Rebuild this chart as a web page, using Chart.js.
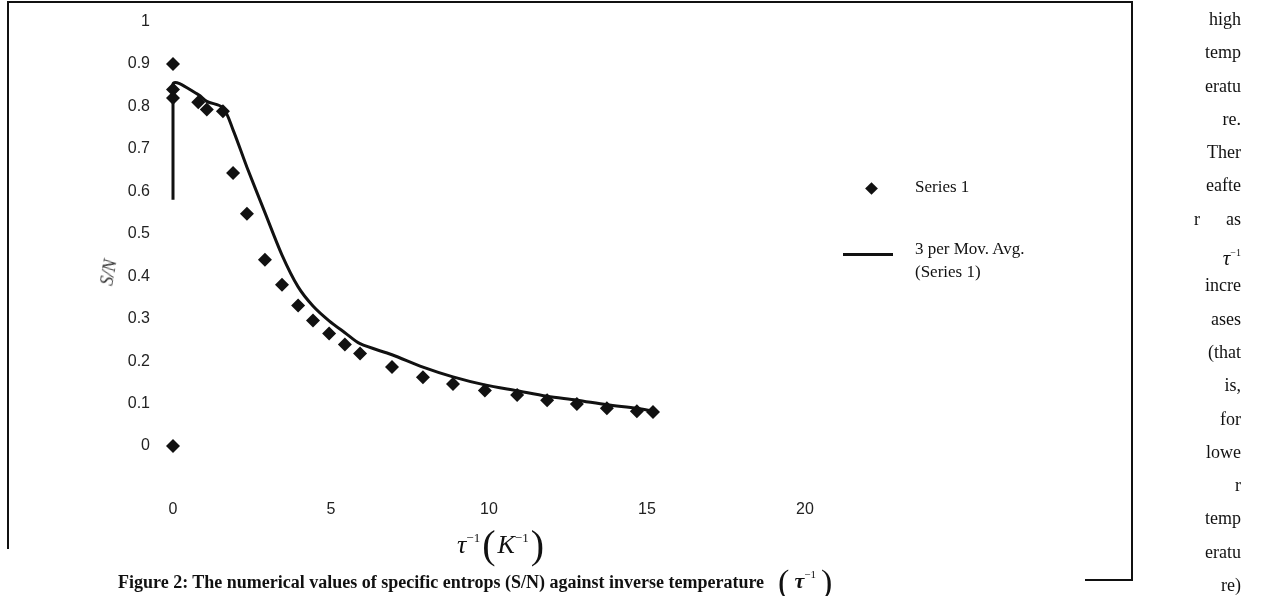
<!DOCTYPE html>
<html>
<head>
<meta charset="utf-8">
<script src="https://cdn.jsdelivr.net/npm/chart.js@4.4.1/dist/chart.umd.min.js"></script>
<style>
  body { margin: 0; background: #fff; }
  #page { position: relative; width: 1266px; height: 596px; overflow: hidden; background: #fff; }
  #c { position: absolute; left: 0; top: -11px; }
  .rule { position: absolute; background: #111; }
  .serif { font-family: "Liberation Serif", "Times New Roman", serif; color: #111; }
  #legend { position: absolute; left: 840px; top: 174px; font-size: 17px; }
  #legend .row { position: absolute; white-space: nowrap; }
  #legend .diamond { position: absolute; width: 9px; height: 9px; background: #111; transform: rotate(45deg); }
  #legend .bar { position: absolute; width: 50px; height: 3px; background: #111; }
  #xtitle { position: absolute; left: 457px; top: 521px; font-size: 26px; white-space: nowrap; }
  #xtitle sup { font-size: 13px; vertical-align: 11px; }
  #xtitle .par { font-size: 40px; font-weight: 300; vertical-align: -5px; margin: 0 2px; }
  #ytitle { position: absolute; left: 96px; top: 262px; font-size: 18px; font-style: italic; color: #333; transform: rotate(-80deg); }
  #caption { position: absolute; left: 118px; top: 563px; font-size: 18px; font-weight: bold; white-space: nowrap; }
  #caption .par { font-size: 34px; font-weight: normal; vertical-align: -5px; margin: 0 5px; }
  #caption .tau { font-size: 22px; }
  #caption sup { font-size: 11px; vertical-align: 10px; font-weight: normal; }
  #side { position: absolute; left: 1194px; top: 3px; width: 47px; font-size: 18px; text-align: right; }
  #side div { height: 33.3px; line-height: 33.3px; white-space: nowrap; }
  #side .tau i { font-size: 21px; }
  #side .tau sup { font-size: 10px; vertical-align: 9px; }
</style>
</head>
<body>
<div id="page">
  <canvas id="c" width="1266" height="596"></canvas>

  <div class="rule" style="left:7px; top:1px; width:2px; height:548px;"></div>
  <div class="rule" style="left:7px; top:1px; width:1126px; height:2px;"></div>
  <div class="rule" style="left:1131px; top:1px; width:2px; height:580px;"></div>
  <div class="rule" style="left:1085px; top:579px; width:48px; height:2px;"></div>

  <div id="legend" class="serif">
    <div class="diamond" style="left:27px; top:10px;"></div>
    <div class="row" style="left:75px; top:3px;">Series 1</div>
    <div class="bar" style="left:3px; top:79px;"></div>
    <div class="row" style="left:75px; top:65px;">3 per Mov. Avg.</div>
    <div class="row" style="left:75px; top:88px;">(Series 1)</div>
  </div>

  <div id="ytitle" class="serif">S/N</div>

  <div id="xtitle" class="serif"><i>τ</i><sup>−1</sup><span class="par">(</span><i>K</i><sup>−1</sup><span class="par">)</span></div>

  <div id="caption" class="serif">Figure 2: The numerical values of specific entrops (S/N) against inverse temperature &nbsp;<span class="par">(</span><i class="tau">τ</i><sup>−1</sup><span class="par">)</span></div>

  <div id="side" class="serif">
    <div>high</div><div>temp</div><div>eratu</div><div>re.</div><div>Ther</div><div>eafte</div>
    <div style="display:flex;justify-content:space-between;"><span>r</span><span>as</span></div>
    <div class="tau"><i>τ</i><sup>−1</sup></div>
    <div>incre</div><div>ases</div><div>(that</div><div>is,</div><div>for</div><div>lowe</div><div>r</div><div>temp</div><div>eratu</div><div>re)</div>
  </div>
</div>

<script>
// Series 1: inverse temperature against S/N
const seriesX = [0, 0, 0, 0, 0.8, 1.07, 1.58, 1.9, 2.34, 2.91, 3.45, 3.96, 4.43, 4.94, 5.44, 5.92, 6.93, 7.91, 8.86, 9.87, 10.89, 11.84, 12.78, 13.73, 14.68, 15.19];
const seriesY = [0, 0.9, 0.84, 0.82, 0.81, 0.793, 0.789, 0.643, 0.547, 0.439, 0.38, 0.331, 0.296, 0.265, 0.239, 0.218, 0.186, 0.162, 0.146, 0.131, 0.12, 0.108, 0.099, 0.089, 0.082, 0.08];

// 3 period moving average trendline
const avgX = [0, 0, 0.8, 1.07, 1.58, 1.9, 2.34, 2.91, 3.45, 3.96, 4.43, 4.94, 5.44, 5.92, 6.93, 7.91, 8.86, 9.87, 10.89, 11.84, 12.78, 13.73, 14.68, 15.19];
const avgY = [0.58, 0.853, 0.828, 0.812, 0.797, 0.745, 0.657, 0.55, 0.45, 0.375, 0.33, 0.295, 0.267, 0.241, 0.215, 0.186, 0.163, 0.144, 0.13, 0.117, 0.108, 0.097, 0.089, 0.082];

const xTickLabels = ['0', '5', '10', '15', '20'];
const yTickLabels = ['0', '0.1', '0.2', '0.3', '0.4', '0.5', '0.6', '0.7', '0.8', '0.9', '1'];

const tickFont = { family: '"Liberation Sans", Arial, sans-serif', size: 16 };

const ctx = document.getElementById('c').getContext('2d');
new Chart(ctx, {
    type: 'scatter',
    data: {
        datasets: [
            {
                label: 'Series 1',
                data: seriesX.map((x, i) => ({ x: x, y: seriesY[i] })),
                pointStyle: 'rectRot',
                pointRadius: 7,
                backgroundColor: '#111',
                borderColor: '#111',
                borderWidth: 0,
                clip: false
            },
            {
                label: '3 per Mov. Avg. (Series 1)',
                data: avgX.map((x, i) => ({ x: x, y: avgY[i] })),
                showLine: true,
                borderColor: '#111',
                borderWidth: 3,
                pointRadius: 0,
                tension: 0.3,
                fill: false,
                clip: false
            }
        ]
    },
    options: {
        responsive: false,
        animation: false,
        layout: {
            padding: { top: 9, right: 461, left: 0, bottom: 0 }
        },
        plugins: {
            legend: { display: false },
            tooltip: { enabled: false }
        },
        scales: {
            x: {
                type: 'linear',
                min: 0,
                max: 20,
                grid: { display: false, drawTicks: false },
                border: { display: false },
                ticks: {
                    stepSize: 5,
                    padding: 54,
                    color: '#222',
                    font: tickFont,
                    callback: (v, i) => xTickLabels[i]
                },
                afterFit: (scale) => { scale.height = 139; }
            },
            y: {
                min: 0,
                max: 1,
                grid: { display: false, drawTicks: false },
                border: { display: false },
                ticks: {
                    stepSize: 0.1,
                    padding: 23,
                    color: '#222',
                    font: tickFont,
                    callback: (v, i) => yTickLabels[i]
                },
                afterFit: (scale) => { scale.width = 173; }
            }
        }
    }
});
</script>
</body>
</html>
